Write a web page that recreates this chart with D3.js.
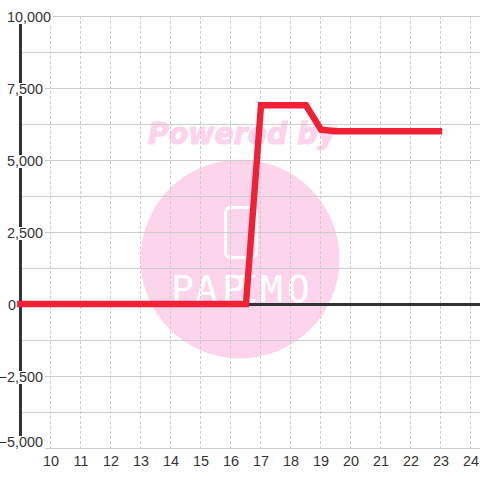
<!DOCTYPE html>
<html><head><meta charset="utf-8">
<script src="https://cdn.jsdelivr.net/npm/d3@7"></script>
<style>html,body{margin:0;padding:0;background:#fff}svg{display:block}text{font-family:"Liberation Sans",Arial,sans-serif}</style>
</head><body><div id="c"></div>
<script>
const xTicks=[10,11,12,13,14,15,16,17,18,19,20,21,22,23,24];
const yLabelTicks=[-5000,-2500,0,2500,5000,7500,10000];
const yGridTicks=[-5000,-3750,-2500,-1250,0,1250,2500,3750,5000,6250,7500,8750,10000];
const hours=[8.87,16.5,17,18,18.5,19,19.5,20,21,22,23.04];
const values=[0,0,6900,6900,6900,6050,6000,6000,6000,6000,6000];
const watermarkTitle='Powered by';
const watermarkBrand='PAPIMO';
const brandGlyphX=[171,195,222,236,260,287];

const W=480,H=480;
const x=d3.scaleLinear().domain([10,24]).range([51,471]);
const y=d3.scaleLinear().domain([-5000,10000]).range([448,16]);
const svg=d3.select('#c').append('svg').attr('width',W).attr('height',H);

// watermark
const wm=svg.append('g');
wm.append('circle').attr('cx',240).attr('cy',259).attr('r',99.5).attr('fill','#fcd5ec');
wm.append('rect').attr('x',225.5).attr('y',207.5).attr('width',31).attr('height',50).attr('rx',5)
  .attr('fill','none').attr('stroke','#fff').attr('stroke-width',3);
wm.append('text').text(watermarkBrand).attr('x',brandGlyphX.join(' ')).attr('y',302)
  .attr('fill','#fff').style('font-family','"DejaVu Sans Mono"').style('font-size','38px');
wm.append('text').text(watermarkTitle).attr('x',148).attr('y',144).attr('fill','#fcd5ec')
  .attr('stroke','#fcd5ec').attr('stroke-width',1.2)
  .style('font-size','30px').style('font-weight','bold').style('font-style','italic').style('font-family','"DejaVu Sans"')
  .attr('textLength',188).attr('lengthAdjust','spacingAndGlyphs');

// grid
svg.append('g').selectAll('line').data(yGridTicks).join('line')
  .attr('x1',20).attr('x2',W).attr('y1',d=>y(d)+.5).attr('y2',d=>y(d)+.5)
  .attr('stroke','#ccc').attr('stroke-width',1);
svg.append('g').selectAll('line').data(xTicks).join('line')
  .attr('x1',d=>x(d)-.5).attr('x2',d=>x(d)-.5).attr('y1',16).attr('y2',448)
  .attr('stroke','#ccc').attr('stroke-width',1).attr('stroke-dasharray','3 2');

// axis lines
svg.append('line').attr('x1',20.5).attr('x2',20.5).attr('y1',16).attr('y2',448).attr('stroke','#333').attr('stroke-width',3);
svg.append('line').attr('x1',20).attr('x2',W).attr('y1',y(0)+.5).attr('y2',y(0)+.5).attr('stroke','#333').attr('stroke-width',3);

// y labels on a white plate; the extreme and zero labels are moved as in the picture
const labelRight=d=>d===10000?51:d===0?16:43;
const labelBase=d=>d===-5000?y(d)-1:y(d)+6;
const yAxis=svg.append('g').call(d3.axisLeft(y).tickValues(yLabelTicks).tickSize(0).tickFormat(d3.format(',')));
yAxis.select('.domain').remove();
yAxis.selectAll('.tick').attr('transform',d=>`translate(${labelRight(d)},${labelBase(d)})`)
  .each(function(){
    const t=d3.select(this).select('text');
    t.attr('x',0).attr('y',0).attr('dy',0).attr('text-anchor','end').attr('fill','#333')
     .style('font-size','14.4px').style('font-family','"Liberation Sans"');
    const b=t.node().getBBox();
    d3.select(this).insert('rect','text').attr('x',b.x-2).attr('y',-11).attr('width',b.width+4).attr('height',13).attr('fill','#fff');
  });

// x labels
const xAxis=svg.append('g').attr('transform','translate(-0.5,448)').call(d3.axisBottom(x).tickValues(xTicks).tickSize(0).tickFormat(d=>d));
xAxis.select('.domain').remove();
xAxis.selectAll('text').attr('y',18).attr('dy',0).attr('fill','#333').style('font-size','14.4px').style('font-family','"Liberation Sans"');

// series
svg.append('path').datum(hours.map((h,i)=>[h,values[i]]))
  .attr('d',d3.line().x(d=>x(d[0])).y(d=>y(d[1])))
  .attr('fill','none').attr('stroke','#f02035').attr('stroke-width',6.4).attr('stroke-linejoin','miter');
</script></body></html>
